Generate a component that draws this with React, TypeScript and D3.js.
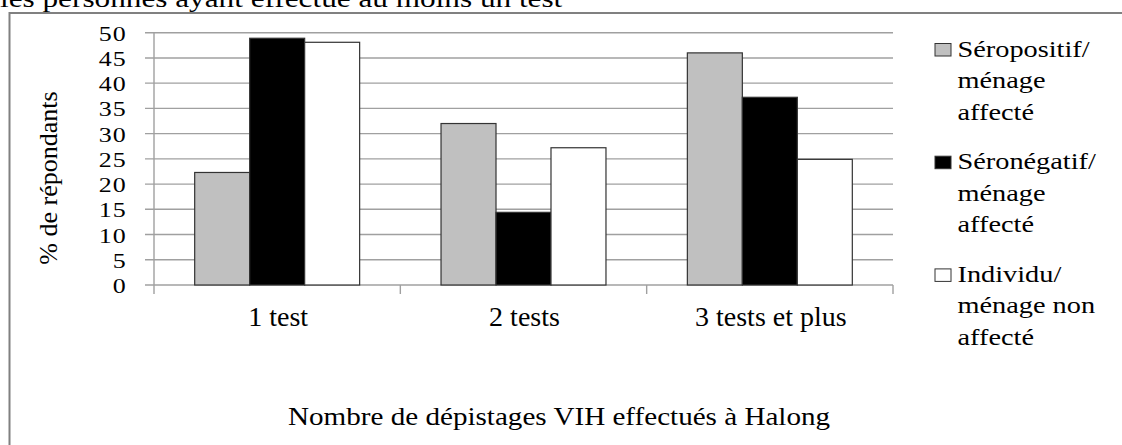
import React from "react";
import * as d3 from "d3";

const categories = ["1 test", "2 tests", "3 tests et plus"];
const seriesNames = ["Séropositif/ménage affecté", "Séronégatif/ménage affecté", "Individu/ménage non affecté"];
const seropositif = [22.3, 32.0, 46.0];
const seronegatif = [48.9, 14.4, 37.2];
const individu = [48.1, 27.2, 24.9];
const yTicks = [0, 5, 10, 15, 20, 25, 30, 35, 40, 45, 50];
const legendLines = [
  ["Séropositif/", "ménage", "affecté"],
  ["Séronégatif/", "ménage", "affecté"],
  ["Individu/", "ménage non", "affecté"],
];
const fills = ["#c0c0c0", "#000000", "#ffffff"];

const W = 1122;
const H = 445;
const FONT = "'Liberation Serif', 'Times New Roman', Times, serif";

function T({ x, y, s = 1, size, anchor = "start", children, rotate = 0, spacing = 0 }: any) {
  const tr = `translate(${x},${y}) rotate(${rotate}) scale(${s},1)`;
  return (
    <text
      transform={tr}
      textAnchor={anchor}
      fill="#000"
      style={{ fontFamily: FONT, fontSize: size + "px", letterSpacing: spacing + "px" }}
    >
      {children}
    </text>
  );
}

export default function App() {
  const x0 = d3.scaleBand<string>().domain(categories).range([154, 893]).padding(0);
  const x1 = d3
    .scaleBand<string>()
    .domain(seriesNames)
    .range([0, x0.bandwidth()])
    .paddingInner(0)
    .paddingOuter(0.74);
  const y = d3.scaleLinear().domain([0, 50]).range([285, 32.7]);
  const series = [seropositif, seronegatif, individu];

  const plotL = 154;
  const plotR = 893;
  const catTicks = [...categories.map((c) => x0(c)!), plotR];

  return (
    <svg
      width={W}
      height={H}
      style={{ position: "absolute", left: 0, top: 0, background: "#fff", fontFamily: FONT }}
    >
      <rect x={0} y={0} width={W} height={H} fill="#fff" />
      {/* cut-off title above */}
      <T x={0} y={7} size={25} s={1.25}>les personnes ayant effectué au moins un test</T>
      {/* frame */}
      <rect x={9.5} y={13} width={1300} height={600} fill="none" stroke="#808080" strokeWidth={2} />

      {/* gridlines */}
      {yTicks.map((t) => (
        <line key={"g" + t} x1={plotL - 9} x2={plotR} y1={y(t)} y2={y(t)} stroke="#a0a0a0" strokeWidth={1.4} />
      ))}
      {/* y axis */}
      <line x1={plotL} x2={plotL} y1={y(50)} y2={y(0)} stroke="#a0a0a0" strokeWidth={1.4} />
      {/* x axis ticks */}
      {catTicks.map((cx, i) => (
        <line key={"ct" + i} x1={cx} x2={cx} y1={y(0)} y2={y(0) + 9} stroke="#a0a0a0" strokeWidth={1.4} />
      ))}

      {/* bars */}
      {categories.map((c, ci) =>
        seriesNames.map((sname, si) => {
          const v = series[si][ci];
          const bx = x0(c)! + x1(sname)!;
          return (
            <rect
              key={c + sname}
              x={bx}
              y={y(v)}
              width={x1.bandwidth()}
              height={y(0) - y(v)}
              fill={fills[si]}
              stroke="#333"
              strokeWidth={1.2}
            />
          );
        })
      )}

      {/* y tick labels */}
      {yTicks.map((t) => (
        <T key={"yl" + t} x={127} y={y(t) + 8} size={22} s={1.18} anchor="end" spacing={1}>
          {String(t)}
        </T>
      ))}
      {/* y title */}
      <T x={57} y={178} size={26} rotate={-90} anchor="middle">% de répondants</T>

      {/* category labels */}
      {categories.map((c) => (
        <T key={"cl" + c} x={x0(c)! + x0.bandwidth() / 2 + 1} y={326} size={28} anchor="middle">
          {c}
        </T>
      ))}
      {/* x title */}
      <T x={288} y={425} size={26} s={1.12}>Nombre de dépistages VIH effectués à Halong</T>

      {/* legend */}
      {legendLines.map((lines, i) => {
        const by = 56.5 + i * 112.7;
        return (
          <g key={"lg" + i}>
            <rect x={935} y={by - 13} width={16} height={12.5} fill={fills[i]} stroke="#333" strokeWidth={1} />
            {lines.map((ln, j) => (
              <T key={j} x={957.5} y={by + j * 31.5} size={24} s={1.18}>
                {ln}
              </T>
            ))}
          </g>
        );
      })}
    </svg>
  );
}
